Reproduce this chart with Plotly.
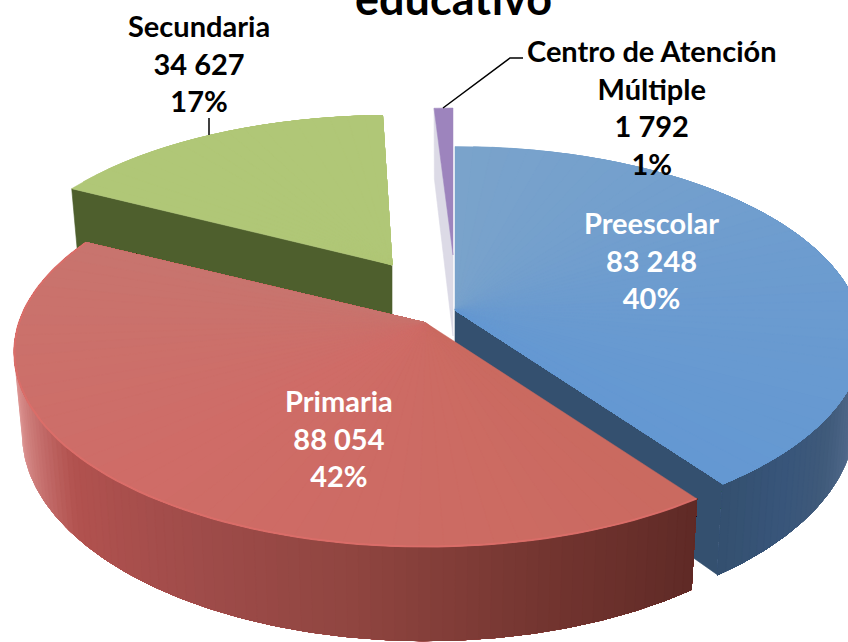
import math
import plotly.graph_objects as go

# ---------- data ----------
categories = ["Preescolar", "Primaria", "Secundaria", "Centro de Atención<br>Múltiple"]
values = [83248, 88054, 34627, 1792]
percent_labels = ["40%", "42%", "17%", "1%"]
title_text = "educativo"

# ---------- styles ----------
top_stops = {
    0: ["#7aa3cb", "#6d9ccf", "#6498d2"],
    1: ["#ca6a60", "#cf6c67", "#c8746e"],
    2: ["#b0c777", "#b0c777"],
    3: ["#9d84bd", "#9d84bd"],
}
inner_wall = ["#34506f", None, "#4e5f2d", "#dcdae6"]
outer_stops = {
    0: ["#c3ccd6", "#8496ab", "#50688a", "#3f5a7a", "#38557a", "#34506f"],
    1: ["#f2dcdc", "#d98f8d", "#b2524f", "#a04c4a", "#8f4540", "#743530", "#5f2a26"],
}
label_font = "Lato"

# Projection of each slice (pixel-space placement of the exploded disc)
PERSP = 0.15
geom = [
    dict(cx=455, cy=310, R=403, Ry=188, D=80, shift=0.0),
    dict(cx=426, cy=323, R=407, Ry=190, D=80, shift=0.0),
    dict(cx=392, cy=265, R=390, Ry=172, D=76, shift=1.5),
    dict(cx=453, cy=255, R=403, Ry=169, D=81, shift=0.0),
]

total = sum(values)
angles = []
acc = 0.0
for v in values:
    angles.append((acc, acc + v / total * 360))
    acc += v / total * 360


def proj(g, deg, bottom=False, r=1.0):
    t = math.radians(deg)
    u, w = math.sin(t) * r, -math.cos(t) * r
    s = 1 / (1 - PERSP * w)
    x = g["R"] * u * s
    y = g["Ry"] * w * s
    if bottom:
        return g["cx"] + x * 0.98, g["cy"] + y + g["D"] * s
    return g["cx"] + x, g["cy"] + y


def hex2rgb(h):
    return [int(h[i:i + 2], 16) for i in (1, 3, 5)]


def ramp(stops, f):
    f = max(0.0, min(1.0, f)) * (len(stops) - 1)
    i = min(int(f), len(stops) - 2)
    a, b = hex2rgb(stops[i]), hex2rgb(stops[i + 1])
    k = f - i
    return "rgb(%d,%d,%d)" % tuple(round(a[j] + (b[j] - a[j]) * k) for j in range(3))


fig = go.Figure()


def poly(pts, color, lw=0):
    fig.add_trace(go.Scatter(
        x=[p[0] for p in pts] + [pts[0][0]],
        y=[p[1] for p in pts] + [pts[0][1]],
        mode="lines", fill="toself", fillcolor=color,
        line=dict(color=color, width=lw), hoverinfo="skip", showlegend=False))


def draw_inner(i, deg):
    g = geom[i]
    poly([proj(g, deg), proj(g, deg, r=0), proj(g, deg, True, r=0), proj(g, deg, True)], inner_wall[i], 0.6)


def draw_top(i):
    # each band runs to the far end of the slice and the next band paints over it
    g = geom[i]
    a0, a1 = angles[i]
    a0 += g["shift"]
    a1 += g["shift"]
    n = max(1, int((a1 - a0) / 3))
    for k in range(n):
        d0 = a0 + (a1 - a0) * k / n
        m = max(2, int((a1 - d0) * 2))
        arc = [proj(g, d0 + (a1 - d0) * j / m) for j in range(m + 1)]
        poly([(g["cx"], g["cy"])] + arc, ramp(top_stops[i], (k + 0.5) / n), 0.5)


def draw_outer(i, d_start, d_end, n):
    # same painter's overlap for the curved wall
    g = geom[i]
    for k in range(n):
        d0 = d_start + (d_end - d_start) * k / n
        m = max(2, int(abs(d_end - d0) * 2))
        ds = [d0 + (d_end - d0) * j / m for j in range(m + 1)]
        poly([proj(g, d) for d in ds] + [proj(g, d, True) for d in reversed(ds)],
             ramp(outer_stops[i], (k + 0.5) / n), 0.5)


# back to front
draw_inner(2, angles[2][0] + geom[2]["shift"])
draw_top(2)
draw_inner(3, angles[3][0])
draw_top(3)
draw_inner(0, angles[0][1])
draw_outer(0, 88, angles[0][1], 40)
draw_top(0)
draw_outer(1, 276, angles[1][0], 90)
draw_top(1)

# rim highlight on the front of the red slice
g = geom[1]
rim = [proj(g, angles[1][0] + (angles[1][1] - angles[1][0]) * j / 80) for j in range(81)]
fig.add_trace(go.Scatter(x=[p[0] for p in rim], y=[p[1] for p in rim], mode="lines",
                         line=dict(color="rgba(220,110,105,0.9)", width=2),
                         hoverinfo="skip", showlegend=False))

# leader lines
fig.add_trace(go.Scatter(x=[209, 209], y=[118, 135], mode="lines",
                         line=dict(color="#000000", width=1.5), hoverinfo="skip", showlegend=False))
fig.add_trace(go.Scatter(x=[443, 510, 523], y=[108, 58, 58], mode="lines",
                         line=dict(color="#000000", width=1.5), hoverinfo="skip", showlegend=False))


def fmt(v):
    return f"{v:,}".replace(",", " ")


label_pos = [(651, 260, "#ffffff"), (339, 438, "#ffffff"), (199, 63, "#000000"), (652, 107, "#000000")]
for cat, v, pct, (lx, ly, col) in zip(categories, values, percent_labels, label_pos):
    fig.add_annotation(x=lx, y=ly, xref="x", yref="y", text=f"<b>{cat}<br>{fmt(v)}<br>{pct}</b>",
                       showarrow=False, align="center", xanchor="center", yanchor="middle",
                       font=dict(family=label_font, size=29, color=col))

fig.add_annotation(x=453 / 848, y=1, xref="paper", yref="paper", text=f"<b>{title_text}</b>",
                   showarrow=False, xanchor="center", yanchor="middle", yshift=2,
                   font=dict(family=label_font, size=45, color="#000000"))

fig.update_layout(
    width=848, height=642, margin=dict(l=0, r=0, t=0, b=0),
    paper_bgcolor="white", plot_bgcolor="white", showlegend=False,
    xaxis=dict(range=[0, 848], visible=False, fixedrange=True),
    yaxis=dict(range=[642, 0], visible=False, fixedrange=True),
)
fig.write_html("out.html", config={"displayModeBar": False},
               post_script="document.body.style.margin='0';")
